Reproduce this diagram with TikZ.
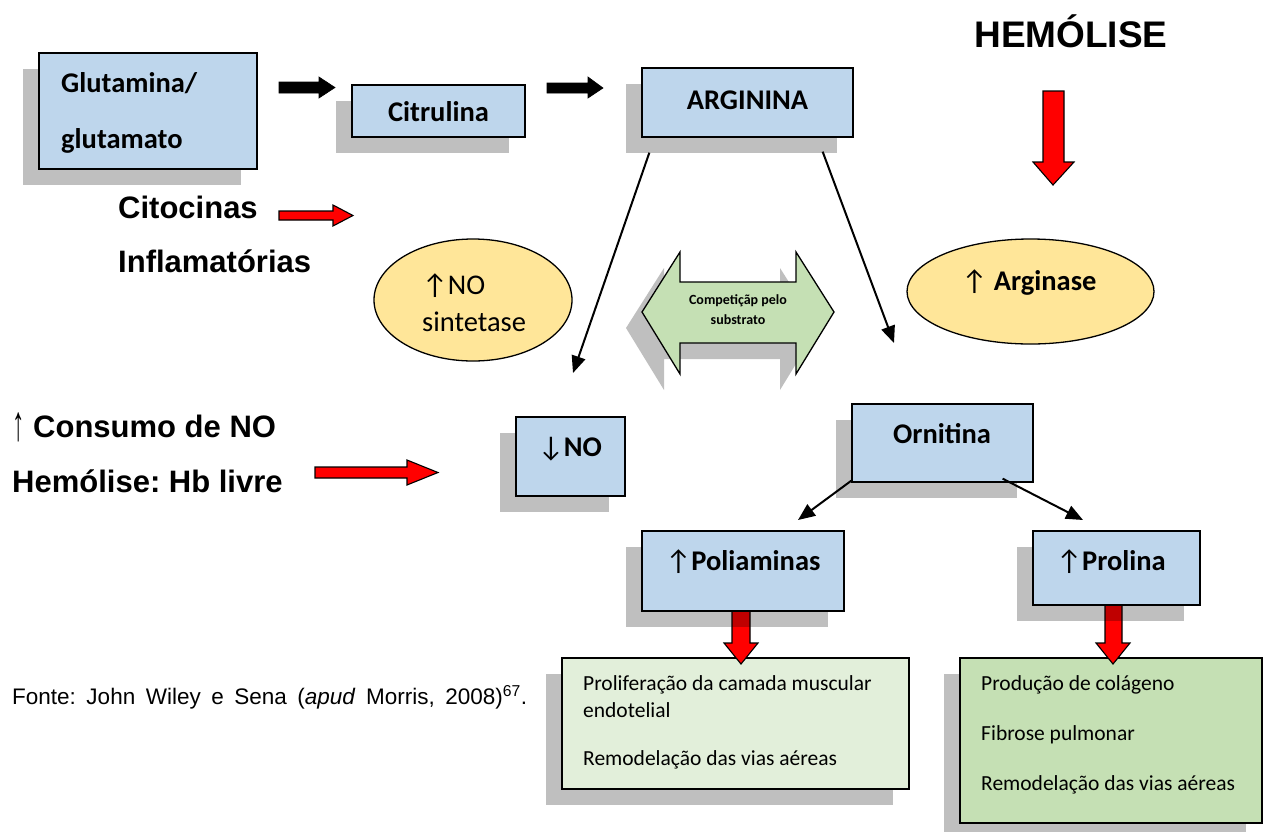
\documentclass[tikz,border=0pt]{standalone}
\usepackage{fontspec}
\setmainfont{Carlito}
\newfontfamily\arialf{Liberation Sans}
\usetikzlibrary{shadows,arrows.meta,fit,calc,shapes.geometric}
\definecolor{boxblue}{RGB}{190,214,236}
\definecolor{ylw}{RGB}{255,230,153}
\definecolor{gdark}{RGB}{197,224,180}
\definecolor{glight}{RGB}{226,239,218}
\definecolor{redA}{RGB}{255,0,0}
\newcommand{\uparr}{{\mdseries ↑}}
\newcommand{\dnarr}{{\mdseries ↓}}
\begin{document}
\frenchspacing
\begin{tikzpicture}[x=1pt,y=-1pt,
  sh/.style={drop shadow={shadow xshift=-16pt,shadow yshift=-16pt,fill=black,opacity=0.25}},
  bluebox/.style={draw=black,line width=1.3pt,fill=boxblue,sh,inner sep=0pt},
  greenbox/.style={draw=black,line width=1.3pt,sh,inner sep=0pt},
  lbl/.style={font=\fontsize{28.5}{34}\selectfont\bfseries,inner sep=0pt,anchor=base},
  small/.style={font=\fontsize{21.5}{26}\selectfont,inner sep=0pt,anchor=base west},
  bigtxt/.style={font=\arialf\fontsize{31}{36}\selectfont\bfseries,inner sep=0pt,anchor=base west},
  redarrow/.style={fill=redA,draw=black,line width=1.1pt,line join=miter},
  blkarrow/.style={fill=black,draw=black,line width=0.6pt},
  conn/.style={line width=2pt,-{Triangle[length=17pt,width=14pt]}},
  oval/.style={ellipse,draw=black,line width=1.3pt,fill=ylw,inner sep=0pt}
]
\useasboundingbox (0,0) rectangle (1264,831);

% green result boxes
\node[greenbox,fill=glight,fit={(562,658) (909,789)}] (g1) {};
\node[greenbox,fill=gdark,fit={(960,658) (1262,823)}] (g2) {};
\node[small] (g1a) at (583,690) {Proliferação da camada muscular};
\node[small] (g1b) at (583,717) {endotelial};
\node[small] (g1c) at (583,765) {Remodelação das vias aéreas};
\node[small] (g2a) at (981,690) {Produção de colágeno};
\node[small] (g2b) at (981,740) {Fibrose pulmonar};
\node[small] (g2c) at (981,790) {Remodelação das vias aéreas};

% red block arrows (drawn before blue boxes so the shadows overlap them)
\draw[redarrow] (732,600) -- (750,600) -- (750,643) -- (758,643) -- (741,664) -- (724,643) -- (732,643) -- cycle;
\draw[redarrow] (1105,600) -- (1122,600) -- (1122,643) -- (1130,643) -- (1113,664) -- (1096,643) -- (1105,643) -- cycle;
\draw[redarrow] (1043,91) -- (1064,91) -- (1064,162) -- (1074,162) -- (1053,185) -- (1033,162) -- (1043,162) -- cycle;
\draw[redarrow] (279,211) -- (333,211) -- (333,205) -- (353,215.5) -- (333,226) -- (333,220) -- (279,220) -- cycle;
\draw[redarrow] (315,467) -- (407,467) -- (407,460) -- (438,472.5) -- (407,485) -- (407,478) -- (315,478) -- cycle;

% black block arrows
\draw[blkarrow] (279,82) -- (319,82) -- (319,77) -- (335,87.5) -- (319,98) -- (319,93) -- (279,93) -- cycle;
\draw[blkarrow] (547,83) -- (588,83) -- (588,77) -- (603,88) -- (588,98) -- (588,93) -- (547,93) -- cycle;

% blue boxes
\node[bluebox,fit={(39,53) (257,169)}] (glu) {};
\node[bluebox,fit={(352,85) (525,137)}] (cit) {};
\node[bluebox,fit={(642,68) (853,137)}] (arg) {};
\node[bluebox,fit={(516,417) (625,496)}] (no) {};
\node[bluebox,fit={(852,404) (1033,482)}] (orn) {};
\node[bluebox,fit={(642,531) (844,611)}] (pol) {};
\node[bluebox,fit={(1033,531) (1200,605)}] (pro) {};

\node[lbl,anchor=base west] (glut1) at (61,92) {Glutamina/};
\node[lbl,anchor=base west] (glut2) at (61,148) {glutamato};
\node[lbl] (citl) at (438.5,121) {Citrulina};
\node[lbl] (argl) at (747.5,109) {ARGININA};
\node[lbl] (nol) at (570,456) {\dnarr NO};
\node[lbl] (ornl) at (942,443) {Ornitina};
\node[lbl] (poll) at (743,570) {\uparr Poliaminas};
\node[lbl] (prol) at (1111,570) {\uparr Prolina};

% ellipses
\node[oval,minimum width=198pt,minimum height=122pt] (nos) at (473,300) {};
\node[font=\fontsize{28.5}{34}\selectfont,inner sep=0pt,anchor=base west] (nos1) at (422,294) {↑NO};
\node[font=\fontsize{28.5}{34}\selectfont,inner sep=0pt,anchor=base west] (nos2) at (422,331) {sintetase};
\node[oval,minimum width=247pt,minimum height=105pt] (ase) at (1030.5,291.5) {};
\node[lbl] (asel) at (1029,290) {\uparr\ Arginase};

% competition double arrow
\fill[black,opacity=0.25] (626,328) -- (664,268) -- (664,298) -- (780,298) -- (780,268) -- (818,328) -- (780,390) -- (780,359) -- (664,359) -- (664,390) -- cycle;
\draw[fill=gdark,line width=1.3pt,line join=miter] (642,312) -- (680,252) -- (680,282) -- (796,282) -- (796,252) -- (834,312) -- (796,374) -- (796,343) -- (680,343) -- (680,374) -- cycle;
\node[align=center,font=\fontsize{14}{20}\selectfont\bfseries,inner sep=0pt] (comp) at (738,310) {Competiçãp pelo\\substrato};

% connectors
\coordinate (tNO) at (573,373);
\coordinate (tOR) at (894,343);
\coordinate (tPO) at (798,520);
\coordinate (tPR) at (1083,520);
\draw[conn] ($(arg.south west)+(8,15)$) -- (tNO);
\draw[conn] ($(arg.south east)+(-31,14)$) -- (tOR);
\draw[conn] ($(orn.south west)+(0,-2)$) -- (tPO);
\draw[conn] ($(orn.south east)+(-31,-4)$) -- (tPR);

% free texts
\node[inner sep=0pt,anchor=base,font=\arialf\fontsize{37}{42}\selectfont\bfseries] (hem) at (1071,47) {HEMÓLISE};
\node[bigtxt] (cito1) at (118,218) {Citocinas};
\node[bigtxt] (cito2) at (118,272) {Inflamatórias};
\node[bigtxt] (cons) at (12,437) {{\mdseries\raisebox{-3pt}{\scalebox{0.8}[1.6]{↑}}} Consumo de NO};
\node[bigtxt] (hb) at (12,492) {Hemólise: Hb livre};
\node[inner sep=0pt,anchor=base west,font=\arialf\fontsize{22.5}{26}\selectfont] (fonte) at (12,704) {\makebox[515pt][s]{Fonte: John Wiley e Sena (\textit{apud} Morris, 2008)\textsuperscript{67}.}};
\end{tikzpicture}
\end{document}
